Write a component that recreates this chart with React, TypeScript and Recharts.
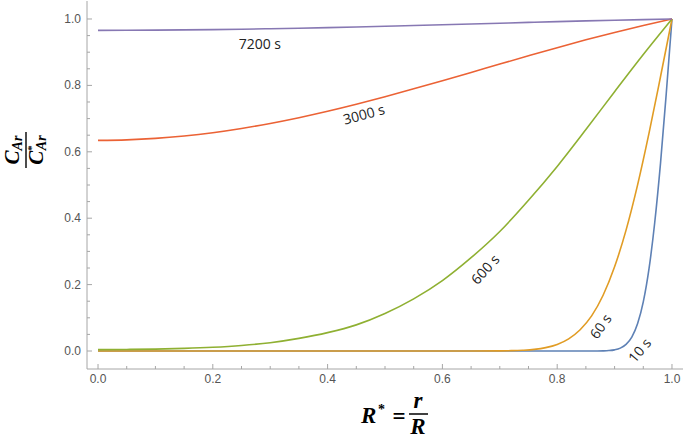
import { LineChart, Line, XAxis, YAxis, ReferenceDot } from "recharts";

// radial position R* = r/R, coarse grid used by the slow curves
const rCoarse = [0, 0.05, 0.1, 0.15, 0.2, 0.25, 0.3, 0.35, 0.4, 0.45, 0.5, 0.55, 0.6, 0.65, 0.7, 0.75, 0.8, 0.85, 0.9, 0.95, 1.0];
const c7200 = [0.9658, 0.966, 0.9664, 0.9671, 0.968, 0.9692, 0.9707, 0.9723, 0.9741, 0.9761, 0.9783, 0.9805, 0.9828, 0.9851, 0.9874, 0.9897, 0.992, 0.9942, 0.9963, 0.9982, 1.0];
const c3000 = [0.6345, 0.636, 0.6403, 0.6476, 0.6576, 0.6704, 0.6855, 0.7028, 0.7221, 0.7432, 0.7659, 0.7896, 0.814, 0.839, 0.8642, 0.8891, 0.9136, 0.9372, 0.9596, 0.9806, 1.0];
const c600 = [0.0043, 0.0047, 0.0056, 0.0078, 0.0113, 0.0168, 0.025, 0.038, 0.0553, 0.0787, 0.113, 0.157, 0.212, 0.281, 0.36, 0.454, 0.556, 0.667, 0.781, 0.893, 1.0];

// the fast curves only move close to the surface
const r60 = [0, 0.6, 0.65, 0.7, 0.72, 0.74, 0.76, 0.78, 0.8, 0.82, 0.84, 0.86, 0.88, 0.9, 0.92, 0.94, 0.96, 0.98, 1.0];
const c60 = [0, 0, 0, 0.0004, 0.001, 0.0023, 0.0048, 0.0101, 0.0198, 0.0367, 0.0641, 0.1057, 0.168, 0.2537, 0.364, 0.4995, 0.656, 0.826, 1.0];
const r10 = [0, 0.85, 0.87, 0.88, 0.89, 0.9, 0.91, 0.92, 0.93, 0.94, 0.95, 0.96, 0.97, 0.98, 0.99, 1.0];
const c10 = [0, 0, 0.00015, 0.00044, 0.0013, 0.0035, 0.0086, 0.0198, 0.0418, 0.0818, 0.1478, 0.248, 0.3877, 0.565, 0.775, 1.0];

const xTicks = [0, 0.05, 0.1, 0.15, 0.2, 0.25, 0.3, 0.35, 0.4, 0.45, 0.5, 0.55, 0.6, 0.65, 0.7, 0.75, 0.8, 0.85, 0.9, 0.95, 1.0];
const yTicks = xTicks;

const curveLabels = [
  { text: "7200 s", x: 0.282, y: 0.925, angle: 0 },
  { text: "3000 s", x: 0.463, y: 0.714, angle: -15 },
  { text: "600 s", x: 0.674, y: 0.247, angle: -48 },
  { text: "60 s", x: 0.875, y: 0.075, angle: -55 },
  { text: "10 s", x: 0.943, y: 0.003, angle: -50 }
];

const rows = (xs: number[], ys: number[]) => xs.map((x, i) => ({ x, y: ys[i] }));

const frame = "#a6a6a6";
const tickText = "#555555";
const isMajor = (v: number) => Math.abs(v * 5 - Math.round(v * 5)) < 1e-6;
const xDomain = [-0.0192, 1.0192];
const yDomain = [-0.0542, 1.0542];

function BottomTick({ x, y, payload }: any) {
  const v = payload.value;
  return (
    <g>
      <line x1={x} x2={x} y1={y} y2={y - (isMajor(v) ? 5 : 3)} stroke={frame} />
      {isMajor(v) && (
        <text x={x} y={y + 14} textAnchor="middle" fill={tickText} fontSize={12} fontFamily="Liberation Sans, Arial, sans-serif">
          {v.toFixed(1)}
        </text>
      )}
    </g>
  );
}

function TopTick({ x, y, payload }: any) {
  return <line x1={x} x2={x} y1={y} y2={y + (isMajor(payload.value) ? 5 : 3)} stroke={frame} />;
}

function LeftTick({ x, y, payload }: any) {
  const v = payload.value;
  return (
    <g>
      <line x1={x} x2={x + (isMajor(v) ? 5 : 3)} y1={y} y2={y} stroke={frame} />
      {isMajor(v) && (
        <text x={x - 6} y={y + 4} textAnchor="end" fill={tickText} fontSize={12} fontFamily="Liberation Sans, Arial, sans-serif">
          {v.toFixed(1)}
        </text>
      )}
    </g>
  );
}

function RightTick({ x, y, payload }: any) {
  return <line x1={x} x2={x - (isMajor(payload.value) ? 5 : 3)} y1={y} y2={y} stroke={frame} />;
}

const titleFont = "Liberation Serif, 'DejaVu Serif', serif";

export default function App() {
  return (
    <div style={{ position: "absolute", left: 0, top: 0, width: 685, height: 439, background: "#fff" }}>
      <LineChart width={685} height={439} margin={{ top: 1, right: 2, bottom: 0, left: 0 }}>
        <XAxis xAxisId="b" dataKey="x" type="number" domain={xDomain} allowDataOverflow ticks={xTicks} interval={0}
          tickSize={0} tickMargin={0} tickLine={false} tick={BottomTick} height={70} stroke={frame} />
        <XAxis xAxisId="t" orientation="top" type="number" domain={xDomain} allowDataOverflow ticks={xTicks} interval={0}
          tickSize={0} tickMargin={0} tickLine={false} tick={TopTick} height={0} stroke={frame} />
        <YAxis yAxisId="l" type="number" domain={yDomain} allowDataOverflow ticks={yTicks} interval={0}
          tickSize={0} tickMargin={0} tickLine={false} tick={LeftTick} width={87} stroke={frame} />
        <YAxis yAxisId="r" orientation="right" type="number" domain={yDomain} allowDataOverflow ticks={yTicks} interval={0}
          tickSize={0} tickMargin={0} tickLine={false} tick={RightTick} width={0} stroke={frame} />
        <Line xAxisId="b" yAxisId="l" data={rows(r10, c10)} dataKey="y" type="monotone" stroke="#5e81b5" strokeWidth={1.6} dot={false} isAnimationActive={false} />
        <Line xAxisId="b" yAxisId="l" data={rows(r60, c60)} dataKey="y" type="monotone" stroke="#e19c24" strokeWidth={1.6} dot={false} isAnimationActive={false} />
        <Line xAxisId="b" yAxisId="l" data={rows(rCoarse, c600)} dataKey="y" type="monotone" stroke="#8fb032" strokeWidth={1.6} dot={false} isAnimationActive={false} />
        <Line xAxisId="b" yAxisId="l" data={rows(rCoarse, c3000)} dataKey="y" type="monotone" stroke="#eb6235" strokeWidth={1.6} dot={false} isAnimationActive={false} />
        <Line xAxisId="b" yAxisId="l" data={rows(rCoarse, c7200)} dataKey="y" type="monotone" stroke="#8778b3" strokeWidth={1.6} dot={false} isAnimationActive={false} />
        {curveLabels.map((l) => (
          <ReferenceDot key={l.text} xAxisId="b" yAxisId="l" x={l.x} y={l.y} r={0}
            shape={(p: any) => (
              <text x={p.cx} y={p.cy} transform={`rotate(${l.angle} ${p.cx} ${p.cy})`} textAnchor="middle" dominantBaseline="central"
                fontSize={14} fill="#222" fontFamily="'Open Sans', sans-serif">
                {l.text}
              </text>
            )}
          />
        ))}
      </LineChart>
      <svg width={685} height={439} style={{ position: "absolute", left: 0, top: 0, pointerEvents: "none" }}>
        <g fontFamily={titleFont} fontWeight="bold" fill="#000">
          <text x={361} y={423} fontSize={23} fontStyle="italic">R</text>
          <text x={378} y={414} fontSize={14}>*</text>
          <text x={399} y={424} fontSize={23} textAnchor="middle">=</text>
          <text x={418} y={408} fontSize={23} fontStyle="italic" textAnchor="middle">r</text>
          <line x1={409} x2={428} y1={414} y2={414} stroke="#000" strokeWidth={1.5} />
          <text x={418} y={434} fontSize={23} fontStyle="italic" textAnchor="middle">R</text>
        </g>
        <g fontFamily={titleFont} fontWeight="bold" fontStyle="italic" fill="#000" transform="translate(26,150) rotate(-90)">
          <line x1={-18} x2={18} y1={0} y2={0} stroke="#000" strokeWidth={1.4} />
          <text x={0} y={-7} fontSize={21} textAnchor="middle">
            C<tspan fontSize={14} dy={3}>Ar</tspan>
          </text>
          <text x={0} y={17} fontSize={21} textAnchor="middle">
            C<tspan fontSize={11} dy={-8} fontStyle="normal">*</tspan>
            <tspan fontSize={14} dx={-5} dy={11}>Ar</tspan>
          </text>
        </g>
      </svg>
    </div>
  );
}
